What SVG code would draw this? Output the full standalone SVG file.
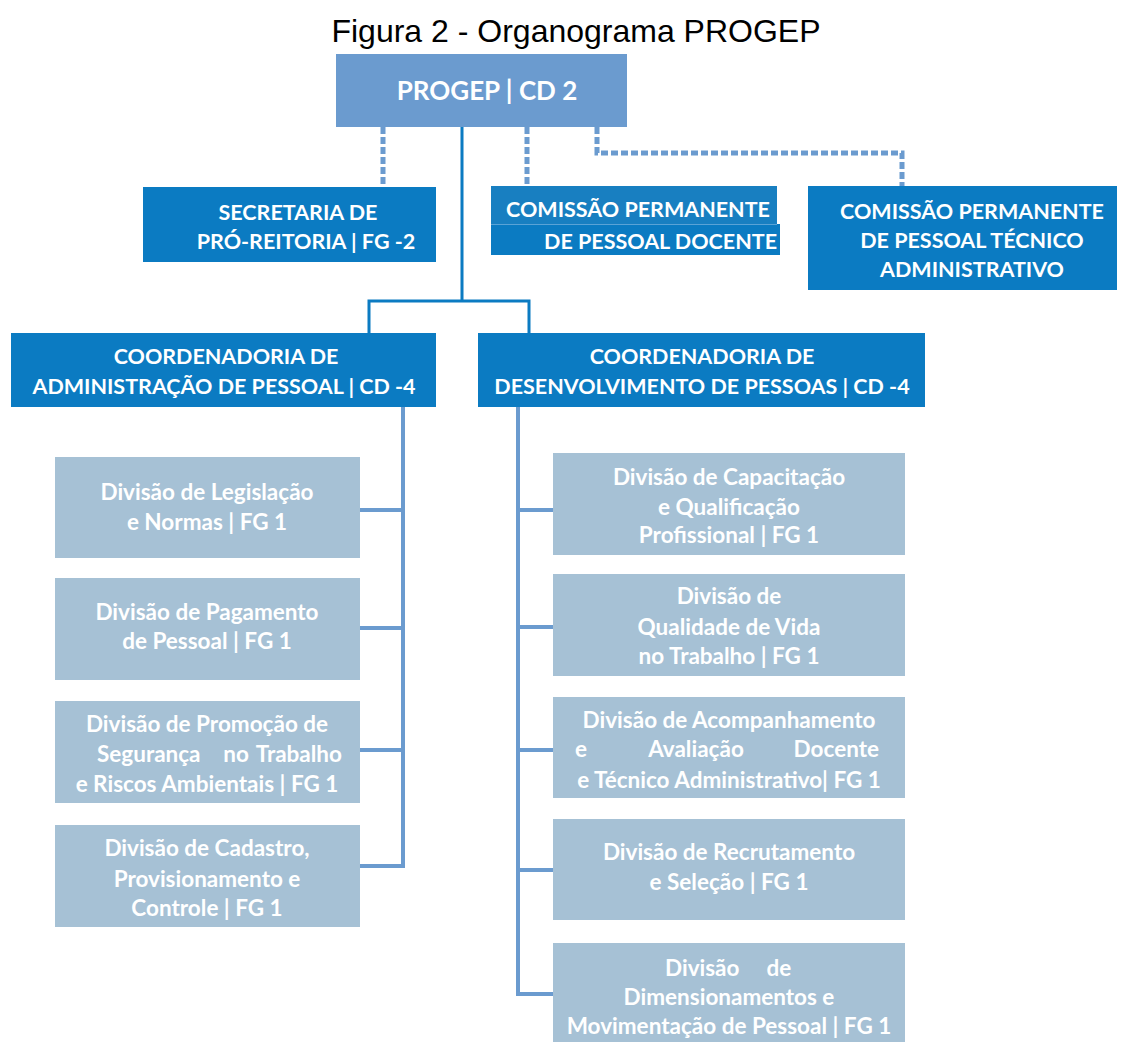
<svg xmlns="http://www.w3.org/2000/svg" width="1123" height="1042" viewBox="0 0 1123 1042">
<style>
.title{font-family:"Liberation Sans",Arial,sans-serif;font-size:32px;fill:#000;text-anchor:middle}
.dark{fill:#0b7bc2}
.top{fill:#6b9bcf}
.div{fill:#a6c1d5}
.h{font-family:Lato,"Open Sans",sans-serif;font-weight:bold;font-size:21.5px;fill:#fff;text-anchor:middle}
.hp{font-family:Lato,"Open Sans",sans-serif;font-weight:bold;font-size:26px;fill:#fff;text-anchor:middle}
.d{font-family:Lato,"Open Sans",sans-serif;font-weight:bold;font-size:22.5px;fill:#fff;text-anchor:middle}
.solid{fill:none;stroke:#0b7bc2;stroke-width:3}
.dash{fill:none;stroke:#6b9bcf;stroke-width:5;stroke-dasharray:7 3}
.lc{fill:none;stroke:#6b9bcf;stroke-width:4}
</style>
<rect width="1123" height="1042" fill="#fff"/>
<text class="title" x="576" y="42">Figura 2 - Organograma PROGEP</text>

<g id="connectors">
<path class="dash" d="M383,127 V187"/>
<path class="dash" d="M527,127 V186"/>
<path class="dash" d="M597,127 V153 H902 V186"/>
<path class="solid" d="M462,127 V301 M369,301 H529 M369,299.5 V333 M529,299.5 V333"/>
<path class="lc" d="M403,407 V868 M360,510 H405 M360,628 H405 M360,750 H405 M360,866 H405"/>
<path class="lc" d="M518,407 V996 M516,510 H553 M516,627 H553 M516,750 H553 M516,870 H553 M516,994 H553"/>
</g>

<g id="progep">
<rect class="top" x="336" y="54" width="291" height="73"/>
<text class="hp" x="487" y="100">PROGEP | CD 2</text>
</g>

<g id="secretaria">
<rect class="dark" x="143" y="187" width="293" height="75"/>
<text class="h" x="298" y="220">SECRETARIA DE</text>
<text class="h" x="306" y="249">PRÓ-REITORIA | FG -2</text>
</g>

<g id="comissao-docente">
<rect x="491" y="186" width="286" height="39" fill="#187fc1"/>
<rect class="dark" x="491" y="224" width="289" height="31"/>
<line x1="491" y1="224.5" x2="777" y2="224.5" stroke="#5aa3d6" stroke-width="1"/>
<text class="h" x="638" y="217">COMISSÃO PERMANENTE</text>
<text class="h" x="777" y="249" style="text-anchor:end">DE PESSOAL DOCENTE</text>
</g>

<g id="comissao-tecnico">
<rect class="dark" x="808" y="186" width="309" height="104"/>
<text class="h" x="972" y="219">COMISSÃO PERMANENTE</text>
<text class="h" x="972" y="248">DE PESSOAL TÉCNICO</text>
<text class="h" x="972" y="277">ADMINISTRATIVO</text>
</g>

<g id="coord-admin">
<rect class="dark" x="11" y="333" width="425" height="74"/>
<text class="h" x="226" y="364">COORDENADORIA DE</text>
<text class="h" x="224" y="394">ADMINISTRAÇÃO DE PESSOAL | CD -4</text>
</g>

<g id="coord-desenv">
<rect class="dark" x="478" y="333" width="447" height="74"/>
<text class="h" x="702" y="364">COORDENADORIA DE</text>
<text class="h" x="702" y="394">DESENVOLVIMENTO DE PESSOAS | CD -4</text>
</g>

<g id="div-legislacao">
<rect class="div" x="55" y="457" width="305" height="101"/>
<text class="d" x="207" y="500">Divisão de Legislação</text>
<text class="d" x="207" y="530">e Normas | FG 1</text>
</g>

<g id="div-pagamento">
<rect class="div" x="55" y="578" width="305" height="102"/>
<text class="d" x="207" y="620">Divisão de Pagamento</text>
<text class="d" x="207" y="649">de Pessoal | FG 1</text>
</g>

<g id="div-promocao">
<rect class="div" x="55" y="701" width="305" height="102"/>
<text class="d" x="207" y="732">Divisão de Promoção de</text>
<text class="d" x="97" y="762" style="text-anchor:start">Segurança</text>
<text class="d" x="236" y="762">no</text>
<text class="d" x="342" y="762" style="text-anchor:end">Trabalho</text>
<text class="d" x="207" y="792">e Riscos Ambientais | FG 1</text>
</g>

<g id="div-cadastro">
<rect class="div" x="55" y="825" width="305" height="102"/>
<text class="d" x="207" y="856">Divisão de Cadastro,</text>
<text class="d" x="207" y="887">Provisionamento e</text>
<text class="d" x="207" y="916">Controle | FG 1</text>
</g>

<g id="div-capacitacao">
<rect class="div" x="553" y="453" width="352" height="102"/>
<text class="d" x="729" y="485">Divisão de Capacitação</text>
<text class="d" x="729" y="515">e Qualificação</text>
<text class="d" x="729" y="543">Profissional | FG 1</text>
</g>

<g id="div-qualidade">
<rect class="div" x="553" y="574" width="352" height="102"/>
<text class="d" x="729" y="604">Divisão de</text>
<text class="d" x="729" y="635">Qualidade de Vida</text>
<text class="d" x="729" y="664">no Trabalho | FG 1</text>
</g>

<g id="div-acompanhamento">
<rect class="div" x="553" y="697" width="352" height="101"/>
<text class="d" x="729" y="728">Divisão de Acompanhamento</text>
<text class="d" x="575" y="757" style="text-anchor:start">e</text>
<text class="d" x="696" y="757">Avaliação</text>
<text class="d" x="879" y="757" style="text-anchor:end">Docente</text>
<text class="d" x="729" y="788">e Técnico Administrativo| FG 1</text>
</g>

<g id="div-recrutamento">
<rect class="div" x="553" y="819" width="352" height="101"/>
<text class="d" x="729" y="860">Divisão de Recrutamento</text>
<text class="d" x="729" y="890">e Seleção | FG 1</text>
</g>

<g id="div-dimensionamentos">
<rect class="div" x="553" y="943" width="352" height="99"/>
<text class="d" x="665" y="976" style="text-anchor:start">Divisão</text>
<text class="d" x="779" y="976">de</text>
<text class="d" x="729" y="1005">Dimensionamentos e</text>
<text class="d" x="729" y="1034">Movimentação de Pessoal | FG 1</text>
</g>
</svg>
